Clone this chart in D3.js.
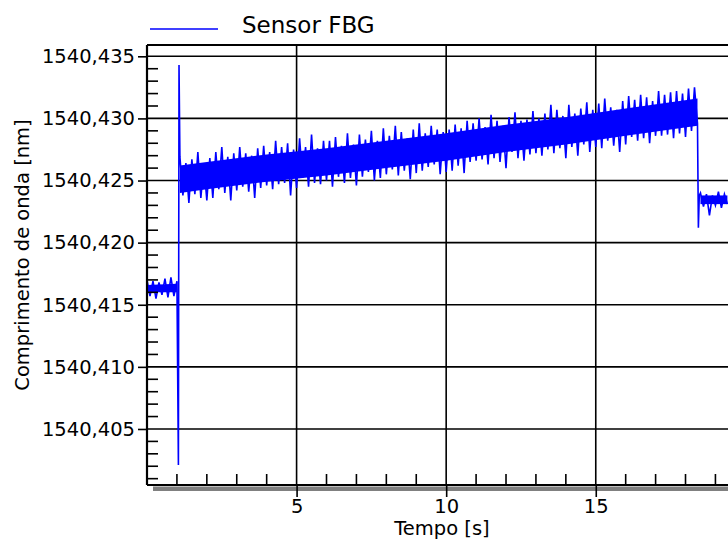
<!DOCTYPE html>
<html>
<head>
<meta charset="utf-8">
<script src="https://cdn.jsdelivr.net/npm/d3@7"></script>
<style>
    body { margin: 0; background: #fff; }
    svg { display: block; }
    svg text { font-family: "DejaVu Sans", Verdana, sans-serif; }
</style>
</head>
<body>
<svg id="chart"></svg>
<script>
// Readings of the FBG sensor wavelength [nm], sampled every 0.1 s
// Segment 1: t = 0.0 .. 1.0 s
const seg1 = [1540.4170, 1540.4157, 1540.4169, 1540.4155, 1540.4168, 1540.4158, 1540.4171, 1540.4156, 1540.4172, 1540.4157, 1540.4169];

// Transient spike around t = 1.06 s
const spikeTempo = [1.05, 1.07];
const spikeValor = [1540.4021, 1540.4343];

// Segment 2: t = 1.1 .. 18.4 s
const seg2 = [
    1540.4269, 1540.4238, 1540.4264, 1540.4232, 1540.4267, 1540.4239, 1540.4273, 1540.4236, 1540.4263, 1540.4234,
    1540.4268, 1540.4236, 1540.4273, 1540.4243, 1540.4277, 1540.4240, 1540.4269, 1540.4234, 1540.4272, 1540.4242,
    1540.4277, 1540.4245, 1540.4272, 1540.4241, 1540.4270, 1540.4236, 1540.4276, 1540.4244, 1540.4278, 1540.4246,
    1540.4273, 1540.4243, 1540.4282, 1540.4247, 1540.4277, 1540.4248, 1540.4280, 1540.4238, 1540.4275, 1540.4244,
    1540.4284, 1540.4252, 1540.4277, 1540.4245, 1540.4287, 1540.4248, 1540.4276, 1540.4247, 1540.4282, 1540.4250,
    1540.4282, 1540.4245, 1540.4285, 1540.4253, 1540.4278, 1540.4248, 1540.4288, 1540.4252, 1540.4279, 1540.4246,
    1540.4287, 1540.4253, 1540.4283, 1540.4257, 1540.4290, 1540.4250, 1540.4282, 1540.4252, 1540.4292, 1540.4255,
    1540.4286, 1540.4259, 1540.4294, 1540.4254, 1540.4289, 1540.4258, 1540.4284, 1540.4251, 1540.4291, 1540.4256,
    1540.4296, 1540.4258, 1540.4288, 1540.4261, 1540.4294, 1540.4263, 1540.4291, 1540.4255, 1540.4289, 1540.4257,
    1540.4291, 1540.4258, 1540.4295, 1540.4262, 1540.4292, 1540.4256, 1540.4298, 1540.4265, 1540.4296, 1540.4266,
    1540.4300, 1540.4267, 1540.4293, 1540.4263, 1540.4303, 1540.4268, 1540.4298, 1540.4265, 1540.4294, 1540.4260,
    1540.4301, 1540.4273, 1540.4305, 1540.4268, 1540.4298, 1540.4266, 1540.4299, 1540.4271, 1540.4306, 1540.4272,
    1540.4300, 1540.4270, 1540.4304, 1540.4275, 1540.4311, 1540.4272, 1540.4307, 1540.4276, 1540.4302, 1540.4268,
    1540.4311, 1540.4277, 1540.4304, 1540.4270, 1540.4308, 1540.4279, 1540.4313, 1540.4273, 1540.4307, 1540.4277,
    1540.4312, 1540.4276, 1540.4316, 1540.4282, 1540.4309, 1540.4278, 1540.4307, 1540.4273, 1540.4314, 1540.4279,
    1540.4318, 1540.4285, 1540.4315, 1540.4282, 1540.4319, 1540.4284, 1540.4317, 1540.4280, 1540.4314, 1540.4286,
    1540.4322, 1540.4286, 1540.4319, 1540.4287, 1540.4321, 1540.4284, 1540.4322, 1540.4288, 1540.4320, 1540.4285,
    1540.4324, 1540.4290, 1540.4325, 1540.4296
];

// Drop around t = 18.44 s
const dropTempo = [18.43, 18.46];
const dropValor = [1540.4212, 1540.4238];

// Segment 3: t = 18.5 .. 19.4 s
const seg3 = [1540.4240, 1540.4229, 1540.4239, 1540.4222, 1540.4238, 1540.4230, 1540.4241, 1540.4228, 1540.4239, 1540.4231];

// Dense core of the noise band (min / max) for each segment
const core1Tempo = [0, 1.0];
const core1Min = [1540.4160, 1540.4160];
const core1Max = [1540.4166, 1540.4167];
const core2Tempo = [1.1, 2, 4, 6, 8, 10, 12, 14, 16, 18.4];
const core2Min = [1540.4240, 1540.4243, 1540.4249, 1540.4254, 1540.4260, 1540.4266, 1540.4273, 1540.4279, 1540.4286, 1540.4294];
const core2Max = [1540.4262, 1540.4265, 1540.4271, 1540.4276, 1540.4282, 1540.4288, 1540.4295, 1540.4301, 1540.4308, 1540.4316];
const core3Tempo = [18.5, 19.4];
const core3Min = [1540.4231, 1540.4231];
const core3Max = [1540.4238, 1540.4238];

const yMajorTicks = [1540.405, 1540.410, 1540.415, 1540.420, 1540.425, 1540.430, 1540.435];
const xMajorTicks = [5, 10, 15];
const xMinorTicks = [1, 2, 3, 4, 6, 7, 8, 9, 11, 12, 13, 14, 16, 17, 18, 19];
const legendLabel = "Sensor FBG";

// Set up dimensions
const W = 728, H = 541;
const margin = { top: 45, right: 0, bottom: 56, left: 147 };
const width = W - margin.left - margin.right,
      height = H - margin.top - margin.bottom;
const blue = "#0000ff";
const font = "'DejaVu Sans', Verdana, sans-serif";

const svg = d3.select("#chart")
    .attr("width", W)
    .attr("height", H);

// Scales
const x = d3.scaleLinear().domain([0, 19.42]).range([0, width]);
const y = d3.scaleLinear().domain([1540.40049, 1540.43591]).range([height, 0]);

const comma = d3.formatLocale({ decimal: ",", thousands: ".", grouping: [3], currency: ["", ""] });
const fmtY = comma.format(".3f");

// Build the series
const serie = [];
seg1.forEach((v, i) => serie.push({ t: i * 0.1, v }));
spikeTempo.forEach((t, i) => serie.push({ t, v: spikeValor[i] }));
seg2.forEach((v, i) => serie.push({ t: 1.1 + i * 0.1, v }));
dropTempo.forEach((t, i) => serie.push({ t, v: dropValor[i] }));
seg3.forEach((v, i) => serie.push({ t: 18.5 + i * 0.1, v }));

const g = svg.append("g")
    .attr("transform", `translate(${margin.left},${margin.top})`);

svg.append("defs").append("clipPath")
    .attr("id", "clip")
    .append("rect")
    .attr("width", width)
    .attr("height", height);

// Grid lines
g.append("g")
    .selectAll("line")
    .data(yMajorTicks)
    .enter()
    .append("line")
    .attr("x1", 0)
    .attr("x2", width)
    .attr("y1", d => y(d))
    .attr("y2", d => y(d))
    .attr("stroke", "#000")
    .attr("stroke-width", 1.6);

g.append("g")
    .selectAll("line")
    .data(xMajorTicks)
    .enter()
    .append("line")
    .attr("x1", d => x(d))
    .attr("x2", d => x(d))
    .attr("y1", 0)
    .attr("y2", height)
    .attr("stroke", "#000")
    .attr("stroke-width", 1.6);

// Data
const plot = g.append("g").attr("clip-path", "url(#clip)");

const cores = [
    [core1Tempo, core1Min, core1Max],
    [core2Tempo, core2Min, core2Max],
    [core3Tempo, core3Min, core3Max]
];
const area = d3.area()
    .x(d => x(d.t))
    .y0(d => y(d.lo))
    .y1(d => y(d.hi));
cores.forEach(([ts, lo, hi]) => {
    plot.append("path")
        .datum(ts.map((t, i) => ({ t, lo: lo[i], hi: hi[i] })))
        .attr("fill", blue)
        .attr("d", area);
});

plot.append("path")
    .datum(serie)
    .attr("fill", "none")
    .attr("stroke", blue)
    .attr("stroke-width", 1.6)
    .attr("d", d3.line().x(d => x(d.t)).y(d => y(d.v)));

// Shadow under the x axis
g.append("rect")
    .attr("x", 6)
    .attr("y", height + 1.5)
    .attr("width", width)
    .attr("height", 4.5)
    .attr("fill", "#808080");

// Y axis: major ticks outside with labels
const yAxis = g.append("g")
    .call(d3.axisLeft(y).tickValues(yMajorTicks).tickSize(9).tickPadding(3).tickFormat(fmtY));
yAxis.select(".domain").remove();
yAxis.selectAll("line").attr("stroke", "#000").attr("stroke-width", 1.6);
yAxis.selectAll("text")
    .style("font-family", font)
    .style("font-size", "19.5px")
    .attr("fill", "#000");

// Y minor ticks, inside
const yMinor = d3.range(1540401, 1540436)
    .filter(d => d % 5 !== 0)
    .map(d => d / 1000);
g.append("g")
    .selectAll("line")
    .data(yMinor)
    .enter()
    .append("line")
    .attr("x1", 0)
    .attr("x2", 11)
    .attr("y1", d => y(d))
    .attr("y2", d => y(d))
    .attr("stroke", "#000")
    .attr("stroke-width", 1.6);

// X axis: major ticks below with labels
const xAxis = g.append("g")
    .attr("transform", `translate(0,${height})`)
    .call(d3.axisBottom(x).tickValues(xMajorTicks).tickSize(12).tickPadding(2).tickFormat(d3.format("d")));
xAxis.select(".domain").remove();
xAxis.selectAll("line").attr("stroke", "#000").attr("stroke-width", 1.6);
xAxis.selectAll("text")
    .style("font-family", font)
    .style("font-size", "19.5px")
    .attr("fill", "#000");

// X minor ticks, inside
g.append("g")
    .selectAll("line")
    .data(xMinorTicks)
    .enter()
    .append("line")
    .attr("x1", d => x(d))
    .attr("x2", d => x(d))
    .attr("y1", height)
    .attr("y2", height - 11)
    .attr("stroke", "#000")
    .attr("stroke-width", 1.6);

// Frame: left axis, bottom axis, top border
g.append("line").attr("x1", 0).attr("x2", 0).attr("y1", 0).attr("y2", height)
    .attr("stroke", "#000").attr("stroke-width", 2.2);
g.append("line").attr("x1", 0).attr("x2", width).attr("y1", height).attr("y2", height)
    .attr("stroke", "#000").attr("stroke-width", 2.2);
g.append("line").attr("x1", 0).attr("x2", width).attr("y1", 0).attr("y2", 0)
    .attr("stroke", "#000").attr("stroke-width", 2.2);

// X-axis label
svg.append("text")
    .attr("x", 442)
    .attr("y", 535)
    .attr("text-anchor", "middle")
    .style("font-size", "19.5px")
    .text("Tempo [s]");

// Y-axis label
svg.append("text")
    .attr("transform", "rotate(-90)")
    .attr("x", -255)
    .attr("y", 29)
    .attr("text-anchor", "middle")
    .style("font-size", "19.5px")
    .text("Comprimento de onda [nm]");

// Legend
svg.append("line")
    .attr("x1", 150)
    .attr("x2", 218)
    .attr("y1", 29)
    .attr("y2", 29)
    .attr("stroke", blue)
    .attr("stroke-width", 1.3);

svg.append("text")
    .attr("x", 242)
    .attr("y", 32.5)
    .style("font-size", "23px")
    .text(legendLabel);
</script>
</body>
</html>
